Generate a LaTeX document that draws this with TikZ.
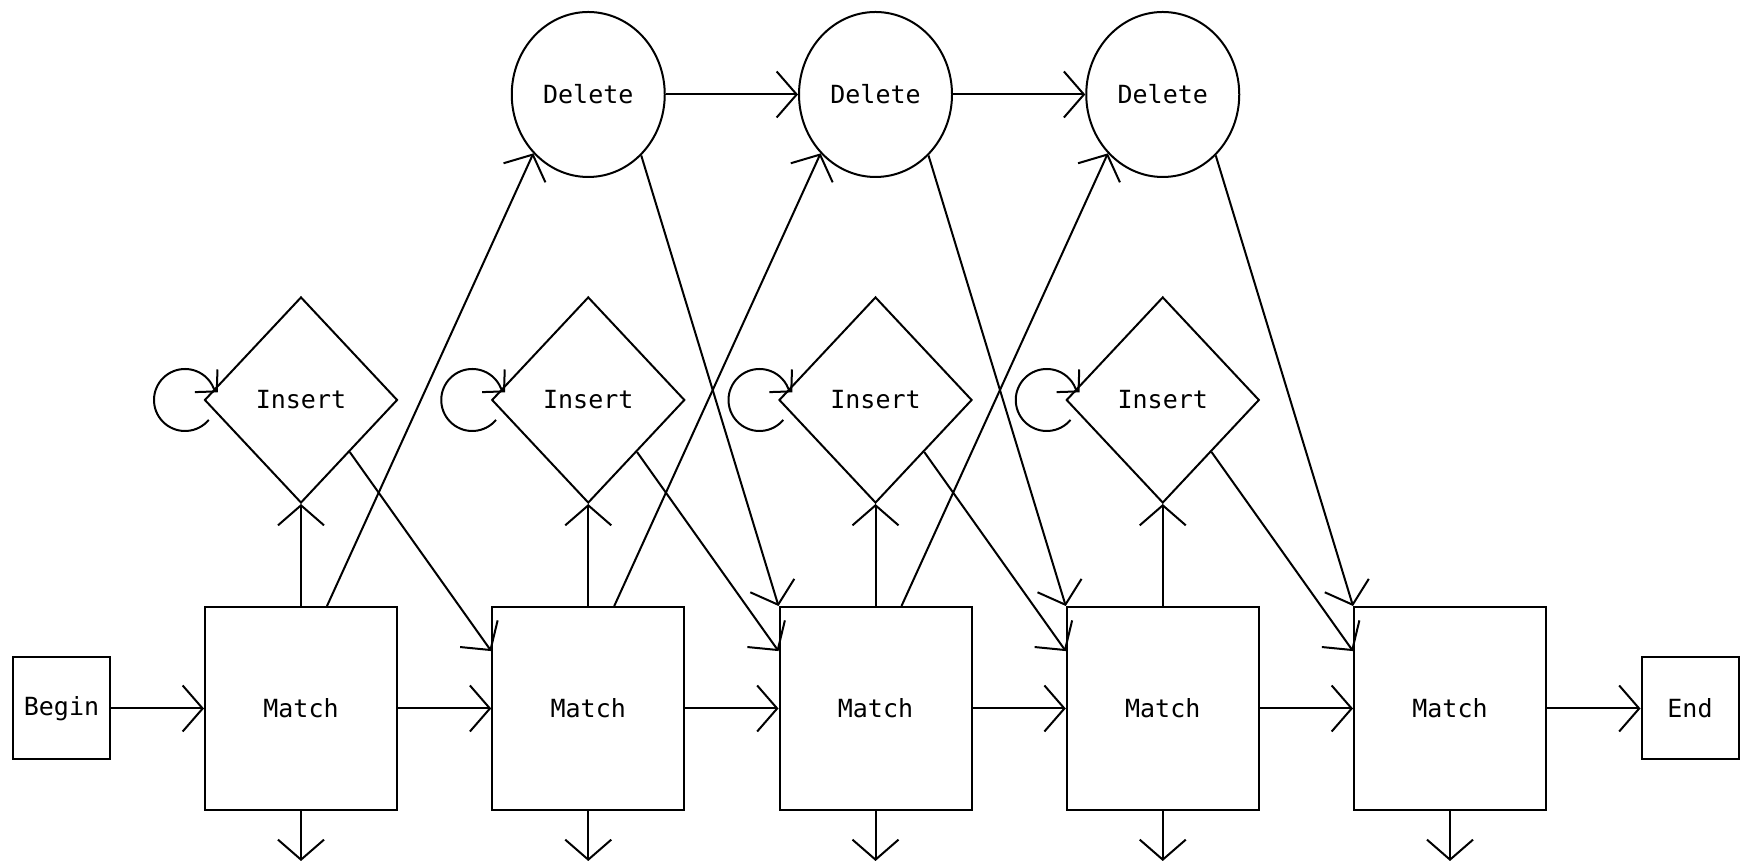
\documentclass[tikz,border=0pt]{standalone}
\usepackage{fontspec}
\newfontfamily\diagfont{DejaVu Sans Mono}
\usetikzlibrary{shapes.geometric,arrows.meta,calc}

\begin{document}
\begin{tikzpicture}[x=1pt,y=1pt,
  line width=2pt,
  every node/.style={font=\diagfont\fontsize{25}{30}\selectfont},
  matchbox/.style={draw, rectangle, inner sep=0pt, minimum width=192pt, minimum height=203pt},
  termbox/.style={draw, rectangle, inner sep=0pt, minimum width=97pt, minimum height=102pt},
  insbox/.style={draw, diamond, inner sep=0pt, minimum width=193pt, minimum height=206pt},
  delbox/.style={draw, ellipse, inner sep=0pt, minimum width=153pt, minimum height=165pt},
  link/.style={-{Straight Barb[length=20pt,width=46pt]}},
  looplink/.style={-{Straight Barb[length=15pt,width=32pt]}},
]
% canvas
\fill[white] (0,0) rectangle (1745,866);
\useasboundingbox (0,0) rectangle (1745,866);

% begin / end states
\node[termbox] (B) at (61.5,157.5) {Begin};
\node[termbox] (E) at (1690,157.5) {End};

% match states
\node[matchbox] (M1) at (301,157.5)    {Match};
\node[matchbox] (M2) at (588.25,157.5) {Match};
\node[matchbox] (M3) at (875.5,157.5)  {Match};
\node[matchbox] (M4) at (1162.75,157.5){Match};
\node[matchbox] (M5) at (1450,157.5)   {Match};

% insert states
\node[insbox] (I1) at (301,466)     {Insert};
\node[insbox] (I2) at (588.25,466)  {Insert};
\node[insbox] (I3) at (875.5,466)   {Insert};
\node[insbox] (I4) at (1162.75,466) {Insert};

% delete states
\node[delbox] (D1) at (588.25,771.5)  {Delete};
\node[delbox] (D2) at (875.5,771.5)   {Delete};
\node[delbox] (D3) at (1162.75,771.5) {Delete};

% main chain
\draw[link] (B) -- (M1);
\foreach \a/\b in {1/2,2/3,3/4,4/5} \draw[link] (M\a) -- (M\b);
\draw[link] (M5) -- (E);

% emissions below each match state
\foreach \a in {1,...,5} {
  \coordinate (out\a) at ($(M\a.south)+(0,-50)$);
  \draw[link] (M\a.south) -- (out\a);
}

% match -> insert, insert -> next match, insert self loop
\foreach \a/\b in {1/2,2/3,3/4,4/5} {
  \draw[link] (M\a.north) -- (I\a.south);
  \draw[link] (I\a.south east) -- ($(M\b.north west)!0.22!(M\b.south west)$);
  \draw[looplink] ($(I\a.center)+(-116,0)+(-40:31)$)
      arc[start angle=-40, end angle=-338, radius=31] -- ++(4,-4);
}

% match -> delete, delete -> match two steps on
\foreach \a/\c in {1/3,2/4,3/5} {
  \draw[link] ($(M\a.north)+(26,0)$) -- (D\a.227);
  \draw[link] (D\a.311) -- (M\c.north west);
}

% delete chain
\draw[link] (D1) -- (D2);
\draw[link] (D2) -- (D3);
\end{tikzpicture}
\end{document}
